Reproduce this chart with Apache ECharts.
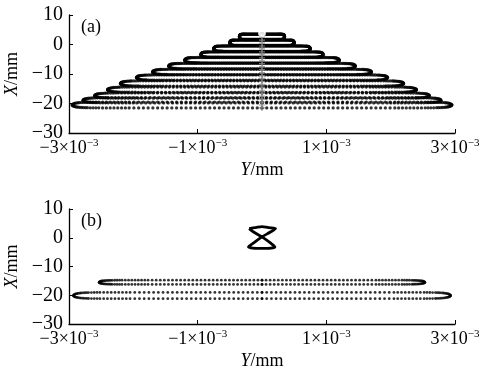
<!DOCTYPE html>
<html>
<head>
<meta charset="utf-8">
<script src="https://cdn.jsdelivr.net/npm/echarts@6/dist/echarts.min.js"></script>
<style>
    html, body { margin: 0; padding: 0; background: #fff; }
    #chart { width: 481px; height: 369px; }
</style>
</head>
<body>
<div id="chart"></div>
<script>
    // Y values are in units of 1e-3 mm, X in mm
    var yTicks = [-3, -1, 1, 3];
    var xTicks = [-30, -20, -10, 0, 10];

    // (a) loop rows: centre level X, half width Y, half height
    var loopLevelA = [2.6, 0.6, -1.4, -3.4, -5.3, -7.3, -9.3, -11.2, -13.2, -15.3, -17.3, -18.9, -20.5];
    var loopWidthA = [0.35, 0.5, 0.75, 0.95, 1.2, 1.45, 1.7, 1.95, 2.2, 2.4, 2.6, 2.78, 2.95];
    var loopHalfA = [0.9, 0.9, 0.9, 0.9, 0.9, 0.9, 0.9, 0.9, 0.9, 0.9, 0.9, 0.9, 1.0];

    // (b) loop rows
    var loopLevelB = [-15.5, -20.1];
    var loopWidthB = [2.53, 2.93];
    var loopHalfB = [0.75, 1.1];

    // one quarter of a loop, normalised (u along Y, v along X)
    var loopQuarter = [
        [0, 1], [0.025, 1], [0.05, 1], [0.075, 1], [0.1, 1], [0.125, 1], [0.15, 1], [0.175, 1],
        [0.2, 1], [0.225, 1], [0.25, 1], [0.275, 1], [0.3, 1], [0.325, 1], [0.35, 1], [0.375, 1],
        [0.4, 1], [0.425, 1], [0.45, 1], [0.475, 1], [0.5, 1], [0.525, 1], [0.55, 1], [0.575, 1],
        [0.6, 1], [0.625, 1], [0.65, 1], [0.675, 1], [0.7, 1], [0.72, 1], [0.74, 1], [0.76, 1],
        [0.78, 1], [0.8, 1], [0.82, 0.99], [0.84, 0.985], [0.86, 0.98], [0.875, 0.97], [0.89, 0.96],
        [0.905, 0.95], [0.92, 0.93], [0.93, 0.91], [0.94, 0.88], [0.95, 0.85], [0.96, 0.8],
        [0.968, 0.75], [0.976, 0.68], [0.983, 0.6], [0.989, 0.5], [0.994, 0.38], [0.998, 0.22], [1, 0]
    ];

    // grey centre trace in (a)
    var centreX = [3.5, 2.5, 1.5, 0.5, -0.5, -1.5, -2.5, -3.5, -4.5, -5.5, -6.5, -7.5, -8.5, -9.5,
        -10.5, -11.5, -12.5, -13.5, -14.5, -15.5, -16.5, -17.5, -18.5, -19.5, -20.5, -21.5];
    var centreTop = [[0, 3.9]];

    // hourglass in (b)
    var hourglass = [
        [-0.2, 3.2], [-0.1, 3.5], [0, 3.9], [0.1, 3.5], [0.21, 3.2], [0.13, 2.0], [0, 0.3],
        [-0.13, -1.8], [-0.21, -3.2], [-0.14, -3.6], [0, -3.7], [0.14, -3.6], [0.2, -3.2],
        [0.13, -1.8], [0, 0.3], [-0.13, 2.0], [-0.2, 3.2]
    ];

    function loops(levels, widths, halfs) {
        var pts = [];
        for (var i = 0; i < levels.length; i++) {
            loopQuarter.forEach(function (q) {
                var u = q[0] * widths[i], v = q[1] * halfs[i];
                pts.push([u, levels[i] + v], [-u, levels[i] + v], [u, levels[i] - v], [-u, levels[i] - v]);
            });
        }
        return pts;
    }

    var serif = 'Liberation Serif';
    var grids = [
        { left: 69, right: 26, top: 15, height: 118, containLabel: false, outerBoundsMode: 'none' },
        { left: 69, right: 26, top: 209, height: 115, containLabel: false, outerBoundsMode: 'none' }
    ];

    function xAxisFor(idx) {
        return {
            gridIndex: idx, type: 'value', min: -3, max: 3, interval: 2,
            name: '{i|Y}{r|/mm}', nameLocation: 'middle', nameGap: 28,
            nameTextStyle: { rich: {
                i: { fontFamily: serif, fontStyle: 'italic', fontSize: 18, color: '#000' },
                r: { fontFamily: serif, fontSize: 18, color: '#000' }
            } },
            axisLine: { onZero: false, lineStyle: { color: '#000', width: 1.3 } },
            axisTick: { inside: true, length: 4, lineStyle: { color: '#000' } },
            splitLine: { show: false },
            axisLabel: {
                margin: 5,
                formatter: function (v) {
                    return '{n|' + (v < 0 ? '\u2212' : '') + Math.abs(v) + '\u00d710}{s|\u22123}';
                },
                rich: {
                    n: { fontFamily: serif, fontSize: 18, color: '#000' },
                    s: { fontFamily: serif, fontSize: 11, color: '#000', padding: [0, 0, 9, 0] }
                }
            }
        };
    }

    function yAxisFor(idx) {
        return {
            gridIndex: idx, type: 'value', min: -30, max: 10, interval: 10,
            name: '{i|X}{r|/mm}', nameLocation: 'middle', nameGap: 32, nameRotate: 90,
            nameTextStyle: { rich: {
                i: { fontFamily: serif, fontStyle: 'italic', fontSize: 18, color: '#000' },
                r: { fontFamily: serif, fontSize: 18, color: '#000' }
            } },
            axisLine: { show: true, onZero: false, lineStyle: { color: '#000', width: 1.3 } },
            axisTick: { show: true, inside: true, length: 4, lineStyle: { color: '#000' } },
            splitLine: { show: false },
            axisLabel: {
                margin: 6, fontFamily: serif, fontSize: 20, color: '#000',
                formatter: function (v) { return (v < 0 ? '\u2212' : '') + Math.abs(v); }
            }
        };
    }

    var dot = { color: '#000' };
    var option = {
        animation: false,
        backgroundColor: '#fff',
        title: [
            { text: '(a)', left: 76, top: 13, textStyle: { fontFamily: serif, fontWeight: 'normal', fontSize: 18, color: '#000' } },
            { text: '(b)', left: 76, top: 207, textStyle: { fontFamily: serif, fontWeight: 'normal', fontSize: 18, color: '#000' } }
        ],
        grid: grids,
        xAxis: [xAxisFor(0), xAxisFor(1)],
        yAxis: [yAxisFor(0), yAxisFor(1)],
        series: [
            {
                type: 'scatter', xAxisIndex: 0, yAxisIndex: 0, symbol: 'circle', symbolSize: 3.3,
                itemStyle: dot, data: loops(loopLevelA, loopWidthA, loopHalfA)
            },
            {
                type: 'scatter', xAxisIndex: 0, yAxisIndex: 0, symbolSize: 6,
                symbol: 'path://M4,0h2v4h4v2h-4v4h-2v-4h-4v-2h4z',
                itemStyle: { color: '#8c8c8c' },
                data: centreX.map(function (x) { return [0, x]; })
            },
            {
                type: 'scatter', xAxisIndex: 0, yAxisIndex: 0, symbol: 'emptyCircle', symbolSize: 6,
                itemStyle: { color: '#fff', borderColor: '#8c8c8c', borderWidth: 1 },
                data: centreTop
            },
            {
                type: 'scatter', xAxisIndex: 1, yAxisIndex: 1, symbol: 'circle', symbolSize: 2.8,
                itemStyle: dot, data: loops(loopLevelB, loopWidthB, loopHalfB)
            },
            {
                type: 'line', xAxisIndex: 1, yAxisIndex: 1, showSymbol: false, smooth: 0.3,
                lineStyle: { color: '#000', width: 2.8 }, data: hourglass
            }
        ]
    };

    var chartObj = echarts.init(document.getElementById('chart'));
    chartObj.setOption(option);
</script>
</body>
</html>
